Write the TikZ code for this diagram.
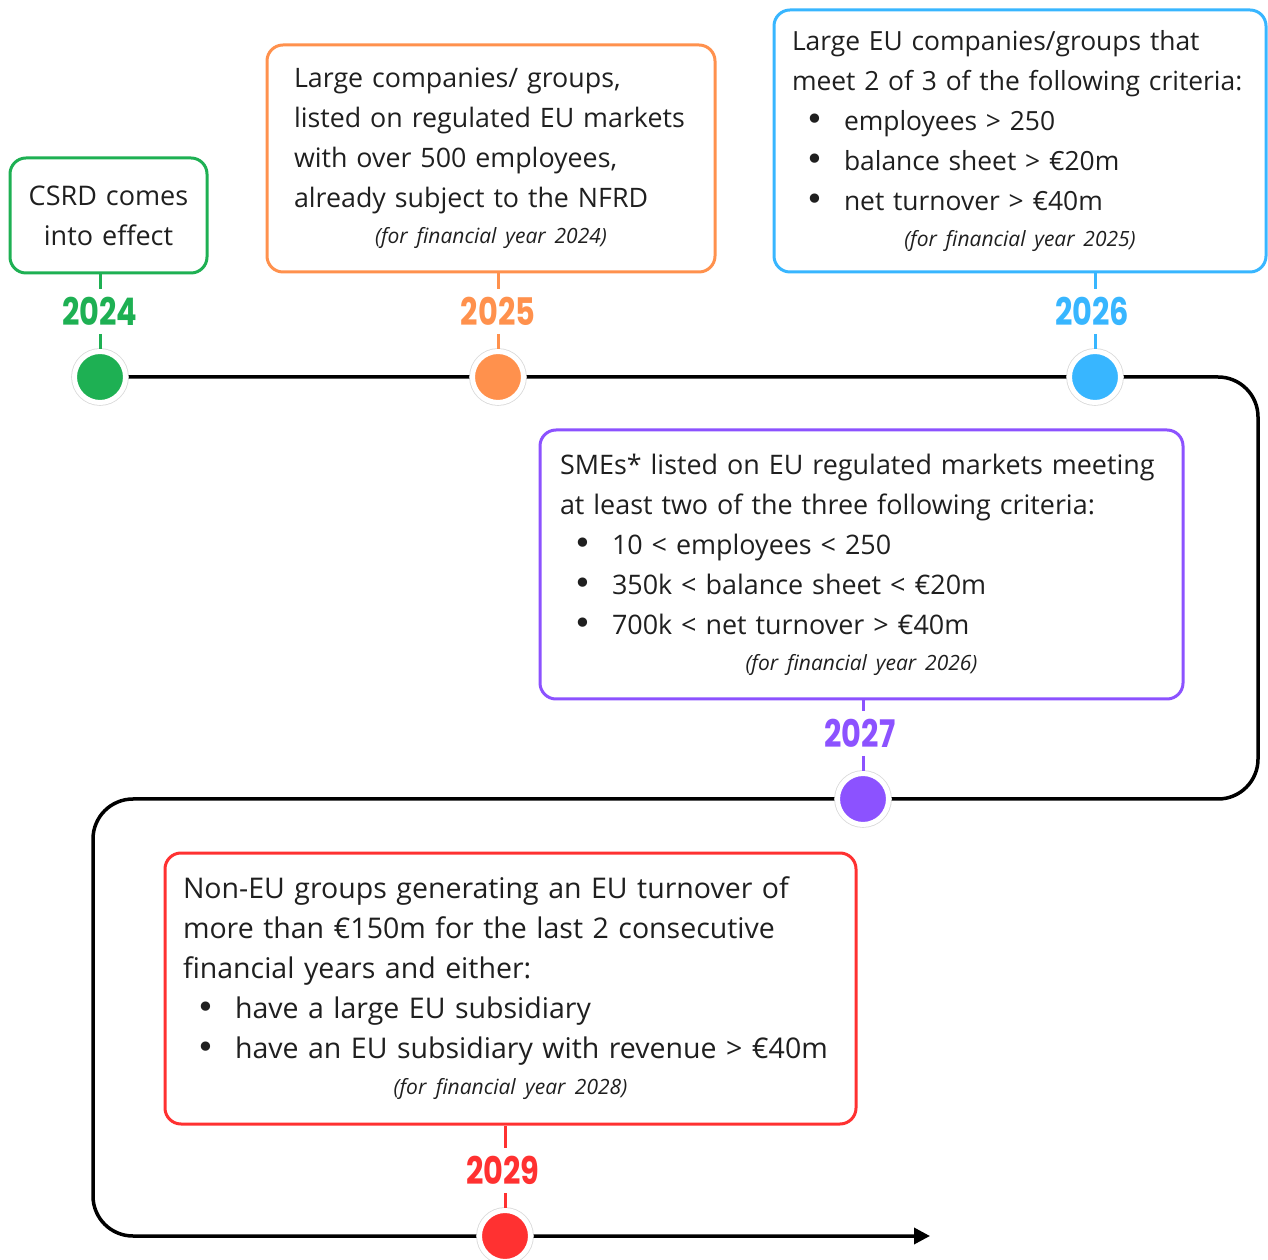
\documentclass[tikz,border=0pt]{standalone}
\usepackage{fontspec}
\setmainfont{Open Sans}
\newfontfamily\yearfont{Poppins}[FakeStretch=0.8]
\newfontfamily\bulletfont{DejaVu Sans}
\usetikzlibrary{positioning,arrows.meta,backgrounds}

\definecolor{csrdgreen}{HTML}{1EB053}
\definecolor{csrdorange}{HTML}{FF914D}
\definecolor{csrdblue}{HTML}{38B6FF}
\definecolor{csrdpurple}{HTML}{8C52FF}
\definecolor{csrdred}{HTML}{FF3131}

\newcommand{\bitem}{\hspace*{13pt}\makebox[39pt][l]{\bulletfont\fontsize{32}{40}\selectfont •}}
\newcommand{\fyear}[1]{\par{\centering\fontsize{21}{36}\selectfont\itshape (for financial year #1)\par}}
\newcommand{\cardsize}[1]{\fontsize{#1}{40}\selectfont}

\begin{document}
\begin{tikzpicture}[
  x=1pt, y=1pt,
  font=\cardsize{26},
  card/.style={draw=#1, line width=3pt, rounded corners=16pt, align=left, inner ysep=0pt, text=black!88},
  year/.style={text=#1, font=\yearfont\bfseries\fontsize{38}{38}\selectfont, inner xsep=0pt, inner ysep=8pt},
  dot/.style={circle, minimum size=51pt, inner sep=0pt, fill=#1, draw=white, line width=5pt,
    preaction={draw=gray!30, line width=6.6pt}},
  tick/.style={draw=#1, line width=3pt},
  timeline/.style={line width=3.5pt, rounded corners=40pt, -{Triangle[length=16pt,width=16pt]}}
]

\useasboundingbox (0,0) rectangle (1268,1259);

% Dots on the timeline
\node[dot=csrdgreen] (d2024) at (100,882) {};
\node[dot=csrdorange] (d2025) at (498,882) {};
\node[dot=csrdblue] (d2026) at (1095,882) {};
\node[dot=csrdpurple] (d2027) at (863,460) {};
\node[dot=csrdred] (d2029) at (505,23) {};

% Years
\node[year=csrdgreen, above=15pt of d2024] (y2024) {2024};
\node[year=csrdorange, above=15pt of d2025] (y2025) {2025};
\node[year=csrdblue, above=15pt of d2026, xshift=-3pt] (y2026) {2026};
\node[year=csrdpurple, above=15pt of d2027, xshift=-3pt] (y2027) {2027};
\node[year=csrdred, above=15pt of d2029, xshift=-2pt] (y2029) {2029};

% Boxes
\node[card=csrdgreen, font=\cardsize{27}, align=center, text width=165pt, inner xsep=16pt, minimum height=115pt]
  (effect) at (108.5,1043.5) {CSRD comes\\into effect};

\node[card=csrdorange, font=\cardsize{26.8}, text width=394pt, inner xsep=27pt, minimum height=227pt]
  (nfrd) at (491,1100.5) {Large companies/ groups,\\
  listed on regulated EU markets\\
  with over 500 employees,\\
  already subject to the NFRD\fyear{2024}};

\node[card=csrdblue, font=\cardsize{26.4}, text width=456pt, inner xsep=18pt, minimum height=262pt]
  (large) at (1020,1118) {Large EU companies/groups that\\
  meet 2 of 3 of the following criteria:\\
  \bitem employees > 250\\
  \bitem balance sheet > €20m\\
  \bitem net turnover > €40m\fyear{2025}};

\node[card=csrdpurple, font=\cardsize{26.9}, text width=603pt, inner xsep=20pt, minimum height=269pt]
  (smes) at (861.5,694.5) {SMEs* listed on EU regulated markets meeting\\
  at least two of the three following criteria:\\
  \bitem 10 < employees < 250\\
  \bitem 350k < balance sheet < €20m\\
  \bitem 700k < net turnover > €40m\fyear{2026}};

\node[card=csrdred, font=\cardsize{28.5}, text width=655pt, inner xsep=18pt, minimum height=271pt]
  (noneu) at (510.5,270.5) {Non-EU groups generating an EU turnover of\\
  more than €150m for the last 2 consecutive\\
  financial years and either:\\
  \bitem have a large EU subsidiary\\
  \bitem have an EU subsidiary with revenue > €40m\fyear{2028}};

% Ticks: box -> year -> dot
\draw[tick=csrdgreen] (effect.south -| d2024) -- (y2024.north);
\draw[tick=csrdgreen] (y2024.south) -- (d2024.north);
\draw[tick=csrdorange] (nfrd.south -| d2025) -- (y2025.north -| d2025);
\draw[tick=csrdorange] (y2025.south -| d2025) -- (d2025.north);
\draw[tick=csrdblue] (large.south -| d2026) -- (y2026.north -| d2026);
\draw[tick=csrdblue] (y2026.south -| d2026) -- (d2026.north);
\draw[tick=csrdpurple] (smes.south -| d2027) -- (y2027.north -| d2027);
\draw[tick=csrdpurple] (y2027.south -| d2027) -- (d2027.north);
\draw[tick=csrdred] (noneu.south -| d2029) -- (y2029.north -| d2029);
\draw[tick=csrdred] (y2029.south -| d2029) -- (d2029.north);

% Timeline (snake)
\coordinate (turnA) at (1258,882);
\coordinate (turnB) at (1258,460);
\coordinate (turnC) at (93,460);
\coordinate (turnD) at (93,23);
\coordinate (lineend) at (930,23);
\begin{scope}[on background layer]
  \draw[timeline] (d2024.center) -- (turnA) -- (turnB) -- (turnC) -- (turnD) -- (lineend);
\end{scope}

\end{tikzpicture}
\end{document}
